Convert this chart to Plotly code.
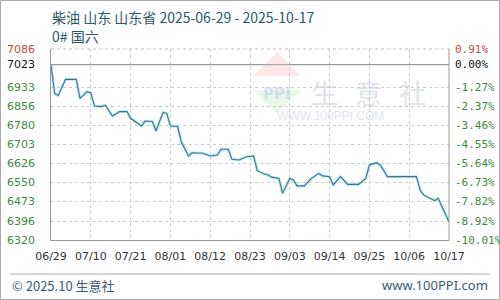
import plotly.graph_objects as go

# ---- data ----
dates = ["2025-06-29","2025-06-30","2025-07-01","2025-07-03","2025-07-06","2025-07-07","2025-07-09",
         "2025-07-10","2025-07-11","2025-07-13","2025-07-14","2025-07-16","2025-07-18","2025-07-20",
         "2025-07-21","2025-07-24","2025-07-25","2025-07-27","2025-07-28","2025-07-30","2025-07-31",
         "2025-08-01","2025-08-03","2025-08-04","2025-08-06","2025-08-07","2025-08-10","2025-08-12",
         "2025-08-14","2025-08-15","2025-08-17","2025-08-18","2025-08-20","2025-08-22","2025-08-24",
         "2025-08-25","2025-08-27","2025-08-28","2025-08-29","2025-08-31","2025-09-01","2025-09-03",
         "2025-09-04","2025-09-05","2025-09-07","2025-09-09","2025-09-11","2025-09-12","2025-09-14",
         "2025-09-15","2025-09-17","2025-09-19","2025-09-22","2025-09-24","2025-09-25","2025-09-27",
         "2025-09-28","2025-09-30","2025-10-08","2025-10-09","2025-10-10","2025-10-12","2025-10-13",
         "2025-10-14","2025-10-15","2025-10-17"]
prices = [7023, 6908, 6900, 6964, 6964, 6888, 6915,
          6910, 6857, 6855, 6861, 6817, 6835, 6835,
          6808, 6777, 6797, 6795, 6757, 6832, 6828,
          6777, 6775, 6714, 6657, 6670, 6668, 6657,
          6661, 6684, 6684, 6644, 6641, 6654, 6657,
          6598, 6585, 6581, 6572, 6567, 6507, 6567,
          6561, 6537, 6537, 6567, 6587, 6577, 6574,
          6541, 6574, 6543, 6543, 6567, 6621, 6630,
          6621, 6574, 6574, 6521, 6501, 6485, 6478,
          6487, 6454, 6393]

x_ticks = ["2025-06-29","2025-07-10","2025-07-21","2025-08-01","2025-08-12","2025-08-23",
           "2025-09-03","2025-09-14","2025-09-25","2025-10-06","2025-10-17"]
x_tick_labels = ["06/29","07/10","07/21","08/01","08/12","08/23","09/03","09/14","09/25","10/06","10/17"]

y_ticks = [6320, 6396, 6473, 6550, 6626, 6703, 6780, 6856, 6933, 7023, 7086]
pct_labels = ["-10.01%","-8.92%","-7.82%","-6.73%","-5.64%","-4.55%","-3.46%","-2.37%","-1.27%","0.00%","0.91%"]
base_value = 7023
y_min, y_max = 6320, 7086

title_text = "柴油 山东 山东省 2025-06-29 - 2025-10-17"
subtitle_text = "0# 国六"

# ---- layout constants ----
W, H = 500, 300
L, R, T, B = 51, 51, 49, 60
pw, ph = W - L - R, H - T - B

def px(x):
    return (x - L) / pw

def py(y):
    return (H - B - y) / ph

GREEN = "#3d8a3d"
RED = "#c04848"
BLACK = "#111111"

def lab_color(v):
    if v > base_value:
        return RED
    if v == base_value:
        return BLACK
    return GREEN

fig = go.Figure()
fig.add_trace(go.Scatter(x=dates, y=prices, mode="lines",
                         line=dict(color="rgba(160,228,242,0.7)", width=3),
                         hoverinfo="skip", showlegend=False))
fig.add_trace(go.Scatter(x=dates, y=prices, mode="lines",
                         line=dict(color="#3f7488", width=1.1),
                         showlegend=False))

shapes = []
annotations = []

# baseline solid line
shapes.append(dict(type="line", xref="paper", yref="y", x0=0, x1=1, y0=base_value, y1=base_value,
                   line=dict(color="#999999", width=1.2), layer="below"))
# top dashed border
shapes.append(dict(type="line", xref="paper", yref="paper", x0=0, x1=1, y0=1, y1=1,
                   line=dict(color="#bbbbbb", width=1, dash="dot"), layer="below"))
# right border
shapes.append(dict(type="line", xref="paper", yref="paper", x0=1, x1=1, y0=0, y1=1,
                   line=dict(color="#999999", width=1)))
# footer line
shapes.append(dict(type="line", xref="paper", yref="paper", x0=px(10), x1=px(490), y0=py(274), y1=py(274),
                   line=dict(color="#aaaaaa", width=1)))
# outer frame
shapes.append(dict(type="rect", xref="paper", yref="paper", x0=px(0.5), x1=px(499.5), y0=py(299.5), y1=py(0.5),
                   line=dict(color="#aaaaaa", width=1)))
# watermark logo
shapes.append(dict(type="path", xref="paper", yref="paper",
                   path=f"M {px(277)} {py(52)} L {px(301)} {py(76)} L {px(253)} {py(76)} Z",
                   fillcolor="rgba(245,190,190,0.35)", line=dict(width=0), layer="below"))
shapes.append(dict(type="path", xref="paper", yref="paper",
                   path=f"M {px(253)} {py(90)} L {px(301)} {py(90)} L {px(277)} {py(113)} Z",
                   fillcolor="rgba(190,235,190,0.35)", line=dict(width=0), layer="below"))
annotations.append(dict(xref="paper", yref="paper", x=px(277), y=py(83), text="<b>PPI</b>",
                        showarrow=False, font=dict(size=15, color="rgba(180,200,235,0.5)", family="DejaVu Sans")))
for ch, cx in zip(["生", "意", "社"], [340, 384, 428]):
    annotations.append(dict(xref="paper", yref="paper", x=px(cx), y=py(71), text=ch, showarrow=False,
                            font=dict(size=27, color="rgba(200,210,222,0.6)", family="Noto Sans CJK SC")))
annotations.append(dict(xref="paper", yref="paper", x=px(386), y=py(107), text="WWW.100PPI.COM", showarrow=False,
                        font=dict(size=12, color="rgba(200,210,222,0.6)", family="Liberation Sans")))

# y labels
for v, pl in zip(y_ticks, pct_labels):
    annotations.append(dict(xref="paper", yref="y", x=px(5), y=v, text=str(v), showarrow=False,
                            xanchor="left", yanchor="middle",
                            font=dict(size=11, color=lab_color(v), family="DejaVu Sans")))
    annotations.append(dict(xref="paper", yref="y", x=px(453), y=v, text=pl, showarrow=False,
                            xanchor="left", yanchor="middle",
                            font=dict(size=11, color=lab_color(v), family="DejaVu Sans Mono")))

# titles
annotations.append(dict(xref="paper", yref="paper", x=px(50), y=py(17), text=title_text, showarrow=False,
                        xanchor="left", yanchor="middle",
                        font=dict(size=14, color="#2a5a6a", family="Noto Sans CJK SC")))
annotations.append(dict(xref="paper", yref="paper", x=px(50), y=py(36), text=subtitle_text, showarrow=False,
                        xanchor="left", yanchor="middle",
                        font=dict(size=14, color="#2a5a6a", family="Noto Sans CJK SC")))
# footer
annotations.append(dict(xref="paper", yref="paper", x=px(10), y=py(285), text="© 2025.10 生意社", showarrow=False,
                        xanchor="left", yanchor="middle",
                        font=dict(size=13, color="#3a5a78", family="Noto Sans CJK SC")))
annotations.append(dict(xref="paper", yref="paper", x=px(490), y=py(285), text="www.100PPI.com", showarrow=False,
                        xanchor="right", yanchor="middle",
                        font=dict(size=13, color="#3a5a78", family="Noto Sans")))

fig.update_layout(
    width=W, height=H,
    margin=dict(l=L, r=R, t=T, b=B),
    paper_bgcolor="white", plot_bgcolor="white",
    shapes=shapes, annotations=annotations,
    showlegend=False,
    xaxis=dict(type="date", range=[x_ticks[0], x_ticks[-1]], tickvals=x_ticks, ticktext=x_tick_labels,
               showgrid=True, gridcolor="#cccccc", griddash="dot", gridwidth=1,
               showline=True, linecolor="#999999", linewidth=1.2,
               ticks="outside", ticklen=6, tickcolor="rgba(0,0,0,0)",
               tickfont=dict(size=11, color="#333333", family="DejaVu Sans"), zeroline=False),
    yaxis=dict(range=[y_min, y_max], tickvals=[v for v in y_ticks if v != base_value],
               showticklabels=False, showgrid=True, gridcolor="#cccccc", griddash="dot", gridwidth=1,
               showline=True, linecolor="#999999", linewidth=1.2, zeroline=False),
)

fig.write_html("out.html")
